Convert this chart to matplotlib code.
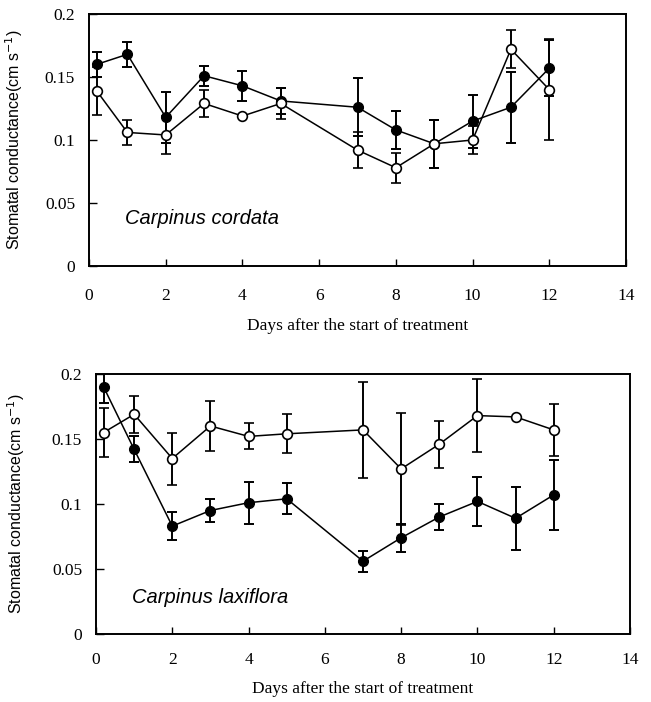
import numpy as np
import matplotlib
matplotlib.use("Agg")
import matplotlib.pyplot as plt

days = [0.2, 1, 2, 3, 4, 5, 7, 8, 9, 10, 11, 12]

# Carpinus cordata
cord_filled = [0.160, 0.168, 0.118, 0.151, 0.143, 0.131, 0.126, 0.108, 0.097, 0.115, 0.126, 0.157]
cord_filled_err = [0.010, 0.010, 0.020, 0.008, 0.012, 0.010, 0.023, 0.015, 0.019, 0.021, 0.028, 0.022]
cord_open = [0.139, 0.106, 0.104, 0.129, 0.119, 0.129, 0.092, 0.078, 0.097, 0.100, 0.172, 0.140]
cord_open_err = [0.019, 0.010, 0.015, 0.011, 0.0, 0.012, 0.014, 0.012, 0.019, 0.011, 0.015, 0.040]

# Carpinus laxiflora
lax_filled = [0.190, 0.142, 0.083, 0.095, 0.101, 0.104, 0.056, 0.074, 0.090, 0.102, 0.089, 0.107]
lax_filled_err = [0.012, 0.010, 0.011, 0.009, 0.016, 0.012, 0.008, 0.011, 0.010, 0.019, 0.024, 0.027]
lax_open = [0.155, 0.169, 0.135, 0.160, 0.152, 0.154, 0.157, 0.127, 0.146, 0.168, 0.167, 0.157]
lax_open_err = [0.019, 0.014, 0.020, 0.019, 0.010, 0.015, 0.037, 0.043, 0.018, 0.028, 0.0, 0.020]

yticks = [0, 0.05, 0.1, 0.15, 0.2]
yticklabels = ["0", "0.05", "0.1", "0.15", "0.2"]
xticks = [0, 2, 4, 6, 8, 10, 12, 14]

serif = "Liberation Serif"
sans = "Liberation Sans"

fig = plt.figure(figsize=(6.51, 7.02), dpi=100)
ax1 = fig.add_axes([89 / 651, 1 - 266 / 702, 537 / 651, 252 / 702])
ax2 = fig.add_axes([96 / 651, 1 - 634 / 702, 534 / 651, 260 / 702])

# axes, series, name, x tick pad, xlabel pad, ylabel pad, name y
panels = [
    (ax1, cord_filled, cord_filled_err, cord_open, cord_open_err, "Carpinus cordata", 16, 10, 14, 0.19),
    (ax2, lax_filled, lax_filled_err, lax_open, lax_open_err, "Carpinus laxiflora", 13, 9, 18, 0.14),
]

for ax, f, fe, o, oe, name, xpad, xlpad, ylpad, ty in panels:
    ax.errorbar(days, f, yerr=fe, color="black", lw=1.1, marker="o", ms=7,
                mfc="black", mec="black", capsize=3.5, elinewidth=1.4, capthick=1.4, zorder=3)
    ax.errorbar(days, o, yerr=oe, color="black", lw=1.1, marker="o", ms=7,
                mfc="white", mec="black", mew=1.2, capsize=3.5, elinewidth=1.4, capthick=1.4, zorder=4)
    ax.set_xlim(0, 14)
    ax.set_ylim(0, 0.2)
    ax.set_xticks(xticks)
    ax.set_xticklabels([str(t) for t in xticks], fontfamily=serif, fontsize=12.5)
    ax.set_yticks(yticks)
    ax.set_yticklabels(yticklabels, fontfamily=serif, fontsize=12.5)
    ax.tick_params(axis="x", direction="in", length=5, width=1, pad=xpad)
    ax.tick_params(axis="y", direction="in", length=6, width=1, pad=10)
    for s in ax.spines.values():
        s.set_linewidth(1.4)
    ax.set_xlabel("Days after the start of treatment", fontfamily=serif, fontsize=12.5, labelpad=xlpad)
    ax.set_ylabel("Stomatal conductance(cm s$^{-1}$)", fontfamily=sans, fontsize=11.5, labelpad=ylpad)
    ax.text(0.067, ty, name, transform=ax.transAxes, fontfamily=sans,
            fontstyle="italic", fontsize=14.5, va="center")

fig.savefig("out.png", dpi=100)
